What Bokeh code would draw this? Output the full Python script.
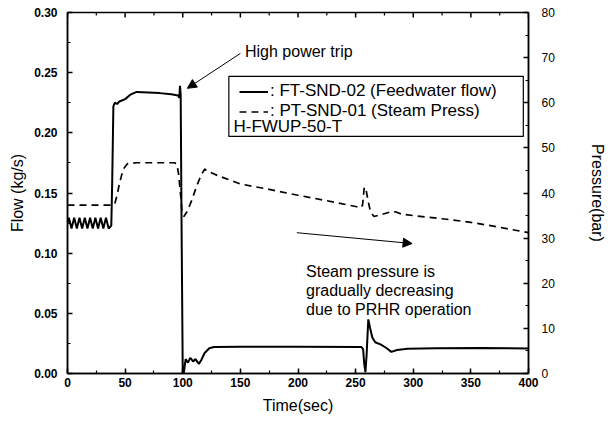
from bokeh.plotting import figure
from bokeh.models import (Range1d, LinearAxis, SingleIntervalTicker, FixedTicker,
                          NumeralTickFormatter, Label, Arrow, NormalHead, BoxAnnotation,
                          Legend, LegendItem)
from bokeh.embed import file_html
from bokeh.resources import INLINE

# ---- data ----
t_flow = [0, 1.2, 3.5, 5.8, 8.1, 10.4, 12.7, 15.0, 17.3, 19.6, 21.9, 24.2, 26.5, 28.8, 31.1,
          33.4, 35.7, 38.0, 38.8, 39.8, 41, 43, 45, 50, 55, 60, 70, 80, 90, 96, 97, 97.6, 98.2,
          99, 100, 101, 102.5, 104.5, 106.5, 109, 111, 114, 116, 119, 123, 127, 150, 200, 255,
          256.5, 257.5, 258.5, 259.5, 261, 262.5, 264.5, 267, 272, 277, 281, 286, 295, 320,
          360, 400]
flow = [0.125, 0.1295, 0.1205, 0.1295, 0.1205, 0.1295, 0.1205, 0.1295, 0.1205, 0.1295, 0.1205,
        0.1295, 0.1205, 0.1295, 0.1205, 0.1295, 0.1205, 0.123, 0.160, 0.222, 0.225, 0.224,
        0.226, 0.228, 0.232, 0.234, 0.2335, 0.233, 0.232, 0.231, 0.229, 0.239, 0.232,
        0.120, 0.0, 0.001, 0.012, 0.009, 0.013, 0.010, 0.012, 0.008, 0.011, 0.017, 0.021,
        0.022, 0.0222, 0.0222, 0.022, 0.020, 0.008, 0.001, 0.015, 0.045, 0.038, 0.030,
        0.026, 0.024, 0.021, 0.018, 0.0195, 0.0205, 0.021, 0.0212, 0.0208]

t_press = [0, 39, 41, 43, 45, 47, 49, 52, 60, 93, 95, 96.5, 98, 99.5, 101, 104, 108, 112, 116,
           119, 122, 130, 150, 175, 200, 225, 250, 254, 256, 257.5, 259, 261, 263, 266, 272,
           280, 285, 290, 300, 325, 350, 375, 400]
press = [37.3, 37.3, 37.6, 39.5, 42.0, 44.0, 45.5, 46.5, 46.7, 46.7, 46.3, 44.0, 40.0, 35.5,
         34.8, 36.0, 38.5, 41.5, 44.0, 45.3, 44.8, 43.9, 42.0, 40.8, 39.5, 38.3, 37.0, 36.7,
         37.3, 41.3, 40.8, 38.0, 35.8, 34.8, 35.2, 35.8, 35.8, 35.3, 35.0, 34.3, 33.5, 32.4,
         31.2]

flow_ticks = [0.0, 0.05, 0.10, 0.15, 0.20, 0.25, 0.30]
flow_minor = [0.025, 0.075, 0.125, 0.175, 0.225, 0.275]
press_ticks = [0, 10, 20, 30, 40, 50, 60, 70, 80]
press_minor = [5, 15, 25, 35, 45, 55, 65, 75]
top_major = [0, 50, 100, 150, 200, 250, 300, 350, 400]
top_minor = [25, 75, 125, 175, 225, 275, 325, 375]

FONT = "Liberation Sans"

p = figure(width=612, height=425, output_backend="svg", toolbar_location=None,
           x_range=Range1d(0, 400), y_range=Range1d(0, 0.3),
           min_border_left=67, min_border_right=84, min_border_top=12, min_border_bottom=52)
p.extra_y_ranges = {"press": Range1d(0, 80)}
p.xgrid.visible = False
p.ygrid.visible = False
p.outline_line_color = "black"
p.outline_line_width = 1.5
p.background_fill_color = "white"
p.border_fill_color = "white"

r1 = p.line(t_flow, flow, line_color="black", line_width=2)
r2 = p.line(t_press, press, y_range_name="press", line_color="black", line_width=1.7,
            line_dash="7 5")

# ticks on the top edge (mirror of the bottom axis ticks)
p.segment(x0=top_major, y0=[0.30] * len(top_major), x1=top_major,
          y1=[0.30 - 5 / 1203] * len(top_major), line_color="black", line_width=1.5)
p.segment(x0=top_minor, y0=[0.30] * len(top_minor), x1=top_minor,
          y1=[0.30 - 3 / 1203] * len(top_minor), line_color="black", line_width=1.2)

def style(ax, bold=True, size="12px"):
    ax.axis_line_width = 1.5
    ax.axis_line_color = "black"
    ax.major_tick_in = 5
    ax.major_tick_out = 0
    ax.minor_tick_in = 3
    ax.minor_tick_out = 0
    ax.major_tick_line_width = 1.5
    ax.minor_tick_line_width = 1.2
    ax.major_label_text_font = FONT
    ax.major_label_text_font_size = size
    ax.major_label_text_font_style = "bold" if bold else "normal"
    ax.major_label_text_color = "black"
    ax.axis_label_text_font = FONT
    ax.axis_label_text_font_size = "16px"
    ax.axis_label_text_font_style = "normal"
    ax.axis_label_text_color = "black"

xa = p.xaxis[0]
xa.ticker = SingleIntervalTicker(interval=50, num_minor_ticks=2)
xa.axis_label = "Time(sec)"
style(xa)
xa.major_label_standoff = 4
xa.axis_label_standoff = 7

ya = p.yaxis[0]
ya.ticker = FixedTicker(ticks=flow_ticks, minor_ticks=flow_minor)
ya.formatter = NumeralTickFormatter(format="0.00")
ya.axis_label = "Flow (kg/s)"
style(ya)
ya.major_label_standoff = 10
ya.axis_label_standoff = 5

ra = LinearAxis(y_range_name="press", ticker=FixedTicker(ticks=press_ticks, minor_ticks=press_minor),
                axis_label="Pressure(bar)")
style(ra, bold=False)
ra.major_label_standoff = 13
ra.axis_label_standoff = 31
p.add_layout(ra, "right")

# legend
legend = Legend(items=[LegendItem(label=": FT-SND-02 (Feedwater flow)", renderers=[r1]),
                       LegendItem(label=": PT-SND-01 (Steam Press)", renderers=[r2])],
                location=(172, 252), padding=0, margin=0, spacing=0,
                label_height=17, glyph_height=17, glyph_width=29, label_standoff=2,
                border_line_alpha=0, background_fill_alpha=0,
                label_text_font=FONT, label_text_font_size="17px", label_text_color="black")
p.add_layout(legend)
p.add_layout(BoxAnnotation(left=140, right=395.5, top=0.247, bottom=0.197,
                           fill_alpha=0, line_color="black", line_alpha=1, line_width=1.2))
p.add_layout(Label(x=144, y=0.205, text="H-FWUP-50-T", text_font=FONT,
                   text_font_size="17px", text_baseline="middle", text_color="black"))

# annotations
p.add_layout(Label(x=154, y=0.268, text="High power trip", text_font=FONT,
                   text_font_size="16px", text_baseline="middle", text_color="black"))
p.add_layout(Arrow(end=NormalHead(size=9, fill_color="black", line_color="black"),
                   x_start=150, y_start=0.266, x_end=104, y_end=0.237,
                   line_color="black", line_width=1))

p.add_layout(Arrow(end=NormalHead(size=9, fill_color="black", line_color="black"),
                   x_start=199, y_start=0.117, x_end=299, y_end=0.108,
                   line_color="black", line_width=1))
for txt, yy in [("Steam pressure is", 0.085), ("gradually decreasing", 0.069),
                ("due to PRHR operation", 0.053)]:
    p.add_layout(Label(x=207, y=yy, text=txt, text_font=FONT, text_font_size="16px",
                       text_baseline="middle", text_color="black"))

open("out.html", "w").write(file_html(p, INLINE))
